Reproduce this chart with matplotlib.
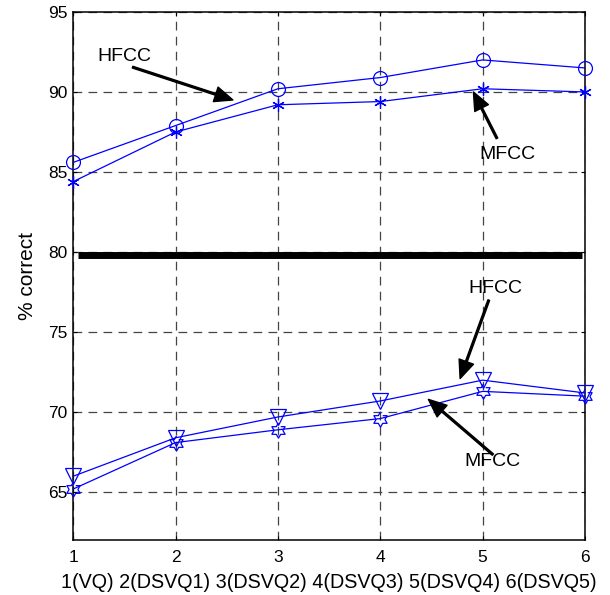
import matplotlib.pyplot as plt
import numpy as np

plt.rcParams['font.family'] = ['Liberation Sans', 'DejaVu Sans']

x = [1, 2, 3, 4, 5, 6]
hfcc_top = [85.6, 87.9, 90.2, 90.9, 92.0, 91.5]
mfcc_top = [84.4, 87.5, 89.2, 89.4, 90.2, 90.0]
hfcc_low = [66.0, 68.4, 69.7, 70.7, 72.0, 71.2]
mfcc_low = [65.2, 68.1, 68.9, 69.6, 71.3, 71.0]
sep_level = 79.8
xlabel_txt = '1(VQ) 2(DSVQ1) 3(DSVQ2) 4(DSVQ3) 5(DSVQ4) 6(DSVQ5)'

# hexagram marker (matlab 'h')
ang = np.pi / 2 + np.arange(12) * np.pi / 6
rad = np.where(np.arange(12) % 2 == 0, 1.0, 0.58)
hexagram = list(zip(rad * np.cos(ang), rad * np.sin(ang)))

fig = plt.figure(figsize=(6.1, 5.95), dpi=100)
ax = fig.add_axes([0.12, 0.092, 0.839, 0.888])

kw = dict(color='blue', lw=0.9, mfc='none', mec='blue', mew=0.9, clip_on=False, zorder=3)
ax.plot(x, hfcc_top, marker='o', ms=10, **kw)
ax.plot(x, mfcc_top, marker=(6, 2, 0), ms=9, **kw)
ax.plot(x, hfcc_low, marker='v', ms=11, **kw)
ax.plot(x, mfcc_low, marker=hexagram, ms=11, **kw)

ax.plot([1.05, 5.97], [sep_level, sep_level], color='black', lw=5, solid_capstyle='butt')

arrow = dict(facecolor='black', edgecolor='black', width=1.3, headwidth=11, headlength=13, shrink=0)
fs = 14
ax.text(1.5, 92.2, 'HFCC', fontsize=fs, ha='center', va='center')
ax.annotate('', xy=(2.56, 89.5), xytext=(1.58, 91.55), arrowprops=arrow)
ax.text(5.24, 86.1, 'MFCC', fontsize=fs, ha='center', va='center')
ax.annotate('', xy=(4.91, 90.0), xytext=(5.14, 87.1), arrowprops=arrow)
ax.text(5.12, 77.75, 'HFCC', fontsize=fs, ha='center', va='center')
ax.annotate('', xy=(4.78, 72.1), xytext=(5.06, 77.0), arrowprops=arrow)
ax.text(5.1, 66.9, 'MFCC', fontsize=fs, ha='center', va='center')
ax.annotate('', xy=(4.47, 70.8), xytext=(5.1, 67.35), arrowprops=arrow)

ax.set_xlim(1, 6)
ax.set_ylim(62, 95)
ax.set_xticks(x)
ax.set_yticks([65, 70, 75, 80, 85, 90, 95])
ax.tick_params(direction='in', labelsize=12.5, top=True, right=True, length=3)
ax.tick_params(axis='y', pad=4)
ax.tick_params(axis='x', pad=7)
ax.grid(True, color='#444444', linestyle=(0, (7, 5)), lw=0.9)
ax.set_xlabel(xlabel_txt, fontsize=14.2, labelpad=6)
ax.set_ylabel('% correct', fontsize=15, labelpad=8)
for s in ax.spines.values():
    s.set_linewidth(1.1)

fig.savefig('out.png', dpi=100)
